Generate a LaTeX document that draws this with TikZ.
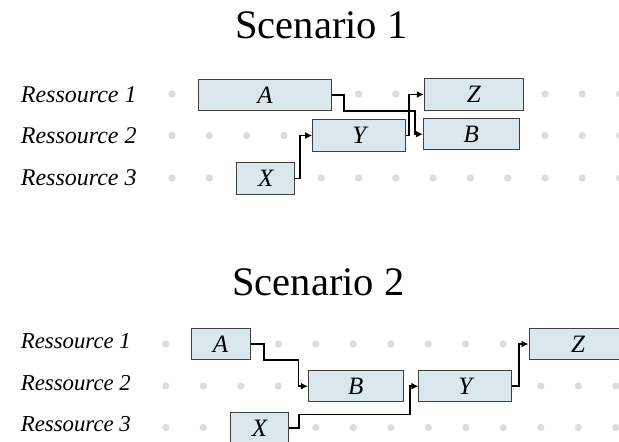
\documentclass[tikz,border=0pt]{standalone}
\usepackage{fontspec}
\setmainfont{Liberation Serif}
\usepackage{tikz}
\usetikzlibrary{arrows.meta}
\definecolor{boxfill}{RGB}{218,231,236}
\definecolor{dotgray}{RGB}{220,220,220}
\tikzset{
  task/.style={draw=black!75, line width=1pt, fill=boxfill, minimum height=31.5pt, inner sep=0pt, font=\fontsize{25}{30}\selectfont\itshape},
  link/.style={-{Latex[length=7pt,width=7pt]}, line width=1.6pt},
  res/.style={anchor=west, inner sep=0pt, font=\fontsize{24}{28}\selectfont\itshape},
  title/.style={anchor=base, inner sep=0pt, font=\fontsize{40.5}{48}\selectfont}
}

\begin{document}
\begin{tikzpicture}[x=1pt, y=-1pt]
  \useasboundingbox (0,0) rectangle (619,442);

  % Scenario 1
  \node[title] (t1) at (321.5,38.3) {Scenario 1};
  \foreach \i in {0,...,12}
    \foreach \y in {94,135.5,178}
      \fill[dotgray] (172+37.3*\i,\y) circle (3.6pt);
  \foreach \r/\y in {1/94.5,2/135.5,3/178}
    \node[res] (ra\r) at (20.7,\y) {Ressource \r};

  \node[task, minimum width=133.4pt] (A1) at (265,95) {A};
  \node[task, minimum width=99pt] (Z1) at (473.8,94.5) {Z};
  \node[task, minimum width=95.7pt] (B1) at (471.2,134.2) {B};
  \node[task, minimum width=93pt] (Y1) at (359.2,135.5) {Y};
  \node[task, minimum width=58.3pt] (X1) at (265.8,178.3) {X};

  \draw[link] (A1.east) -- ++(11.6,0) |- (415,110.7) |- (B1.west);
  \draw[link] (Y1.east) -- ++(2.6,0) |- (Z1.west);
  \draw[link] (X1.east) -- ++(4.3,0) |- (Y1.west);

  % Scenario 2
  \node[title] (t2) at (318.5,295) {Scenario 2};
  \foreach \i in {0,...,12}
    \foreach \y in {344,386,427.5}
      \fill[dotgray] (165.8+37.5*\i,\y) circle (3.6pt);
  \foreach \r/\y in {1/341,2/383,3/424.5}
    \node[res, font=\fontsize{22.8}{27}\selectfont\itshape] (rb\r) at (20.7,\y) {Ressource \r};

  \node[task, minimum width=59pt] (A2) at (220.5,344) {A};
  \node[task, minimum width=95pt] (B2) at (355.8,386.2) {B};
  \node[task, minimum width=92.7pt] (Y2) at (465.3,386.2) {Y};
  \node[task, minimum width=98pt] (Z2) at (578,344) {Z};
  \node[task, minimum width=57.6pt] (X2) at (259.5,428.2) {X};

  \draw[link] (A2.east) -- ++(13.3,0) |- (298.3,360) |- (B2.west);
  \draw[link] (X2.east) -- ++(10,0) |- (410,414.3) |- (Y2.west);
  \draw[link] (Y2.east) -- ++(6.6,0) |- (Z2.west);
\end{tikzpicture}
\end{document}
